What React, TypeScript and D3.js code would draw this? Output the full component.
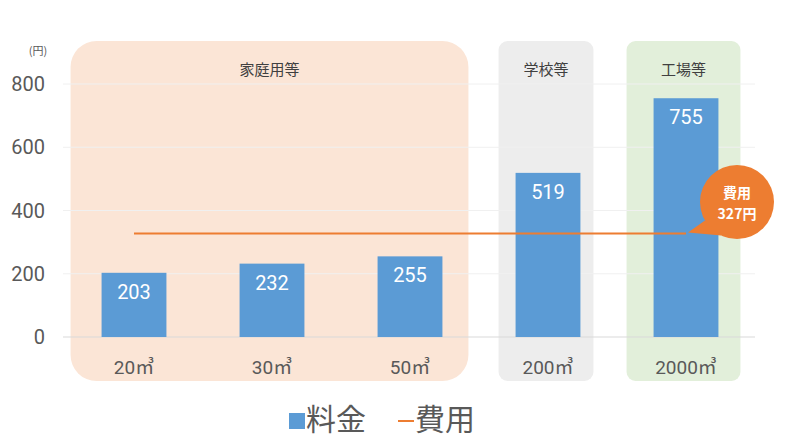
import React from "react";
import * as d3 from "d3";

const categories = ["20㎥", "30㎥", "50㎥", "200㎥", "2000㎥"];
const fees = [203, 232, 255, 519, 755];
const costValue = 327;
const yTicks = [0, 200, 400, 600, 800];
const groups = [
  { label: "家庭用等", from: 0, to: 2 },
  { label: "学校等", from: 3, to: 3 },
  { label: "工場等", from: 4, to: 4 },
];
const seriesNames = ["料金", "費用"];

const W = 800;
const H = 447;
const FONT = "'Noto Sans CJK JP', 'Noto Sans', sans-serif";
const NUMFONT = "Roboto, 'Noto Sans CJK JP', sans-serif";
const BAR = "#5B9BD5";
const ORANGE = "#ED7D31";
const TEXT = "#595959";
const panelStyles = [
  { fill: "#FBE5D6", padL: 31, padR: 26, r: 26 },
  { fill: "#EDEDED", padL: 17, padR: 13, r: 9 },
  { fill: "#E2EFDA", padL: 27, padR: 22, r: 9 },
];

export default function App() {
  const x = d3
    .scaleBand<string>()
    .domain(categories)
    .range([65, 755])
    .paddingInner(0.53)
    .paddingOuter(0.265);
  const y = d3.scaleLinear().domain([0, 800]).range([337, 84]);
  const bw = x.bandwidth();
  const cx = (i: number) => (x(categories[i]) as number) + bw / 2;

  const panelTop = 41;
  const panelBottom = 381;

  const lineY = y(costValue);
  const lineX1 = cx(0);
  const lineX2 = cx(categories.length - 1);

  // callout
  const cc = { x: 737, y: 202, r: 37 };
  const tip = { x: lineX2 + 2, y: lineY - 1 };
  const a1 = (150 * Math.PI) / 180;
  const a2 = (115 * Math.PI) / 180;
  const p1 = { x: cc.x + cc.r * Math.cos(a1), y: cc.y + cc.r * Math.sin(a1) };
  const p2 = { x: cc.x + cc.r * Math.cos(a2), y: cc.y + cc.r * Math.sin(a2) };

  return (
    <svg width={W} height={H} style={{ position: "absolute", left: 0, top: 0 }}>
      <rect x={0} y={0} width={W} height={H} fill="#ffffff" />
      {groups.map((g, i) => {
        const s = panelStyles[i];
        const x0 = (x(categories[g.from]) as number) - s.padL;
        const x1 = (x(categories[g.to]) as number) + bw + s.padR;
        return (
          <g key={g.label}>
            <rect
              x={x0}
              y={panelTop}
              width={x1 - x0}
              height={panelBottom - panelTop}
              rx={s.r}
              ry={s.r}
              fill={s.fill}
            />
            <text
              x={(x0 + x1) / 2}
              y={68}
              textAnchor="middle"
              dominantBaseline="central"
              fontFamily={FONT}
              fontSize={15}
              fill="#404040"
            >
              {g.label}
            </text>
          </g>
        );
      })}
      {yTicks.map((t) => (
        <g key={t}>
          <line
            x1={63}
            x2={755}
            y1={y(t)}
            y2={y(t)}
            stroke={t === 0 ? "#D9D9D9" : "#F0F0F0"}
            strokeWidth={1}
          />
          <text
            x={45}
            y={y(t)}
            textAnchor="end"
            dominantBaseline="central"
            fontFamily={NUMFONT}
            fontSize={20}
            fill={TEXT}
          >
            {t}
          </text>
        </g>
      ))}
      <text
        x={38}
        y={50}
        textAnchor="middle"
        dominantBaseline="central"
        fontFamily={FONT}
        fontSize={11}
        fill={TEXT}
      >
        (円)
      </text>
      {fees.map((v, i) => (
        <g key={categories[i]}>
          <rect
            x={x(categories[i])}
            y={y(v)}
            width={bw}
            height={y(0) - y(v)}
            fill={BAR}
          />
          <text
            x={cx(i)}
            y={y(v) + 19}
            textAnchor="middle"
            dominantBaseline="central"
            fontFamily={NUMFONT}
            fontSize={20}
            fill="#ffffff"
          >
            {v}
          </text>
          <text
            x={cx(i)}
            y={367}
            textAnchor="middle"
            dominantBaseline="central"
            fontFamily={NUMFONT}
            fontSize={19}
            fill={TEXT}
          >
            {categories[i]}
          </text>
        </g>
      ))}
      <line
        x1={lineX1}
        x2={lineX2}
        y1={lineY}
        y2={lineY}
        stroke={ORANGE}
        strokeWidth={2}
      />
      <g>
        <circle cx={cc.x} cy={cc.y} r={cc.r} fill={ORANGE} />
        <path
          d={`M${p1.x},${p1.y} L${tip.x},${tip.y} L${p2.x},${p2.y} Z`}
          fill={ORANGE}
        />
        <text
          x={cc.x}
          y={cc.y - 10}
          textAnchor="middle"
          dominantBaseline="central"
          fontFamily={FONT}
          fontSize={14}
          fontWeight="bold"
          fill="#ffffff"
        >
          費用
        </text>
        <text
          x={cc.x}
          y={cc.y + 11}
          textAnchor="middle"
          dominantBaseline="central"
          fontFamily={FONT}
          fontSize={14}
          fontWeight="bold"
          fill="#ffffff"
        >
          {`${costValue}円`}
        </text>
      </g>
      <g>
        <rect x={289} y={413} width={16} height={16} fill={BAR} />
        <text
          x={306}
          y={417}
          dominantBaseline="central"
          fontFamily={FONT}
          fontSize={30}
          fill={TEXT}
        >
          {seriesNames[0]}
        </text>
        <line x1={398} x2={414} y1={421} y2={421} stroke={ORANGE} strokeWidth={2} />
        <text
          x={415}
          y={417}
          dominantBaseline="central"
          fontFamily={FONT}
          fontSize={30}
          fill={TEXT}
        >
          {seriesNames[1]}
        </text>
      </g>
    </svg>
  );
}
